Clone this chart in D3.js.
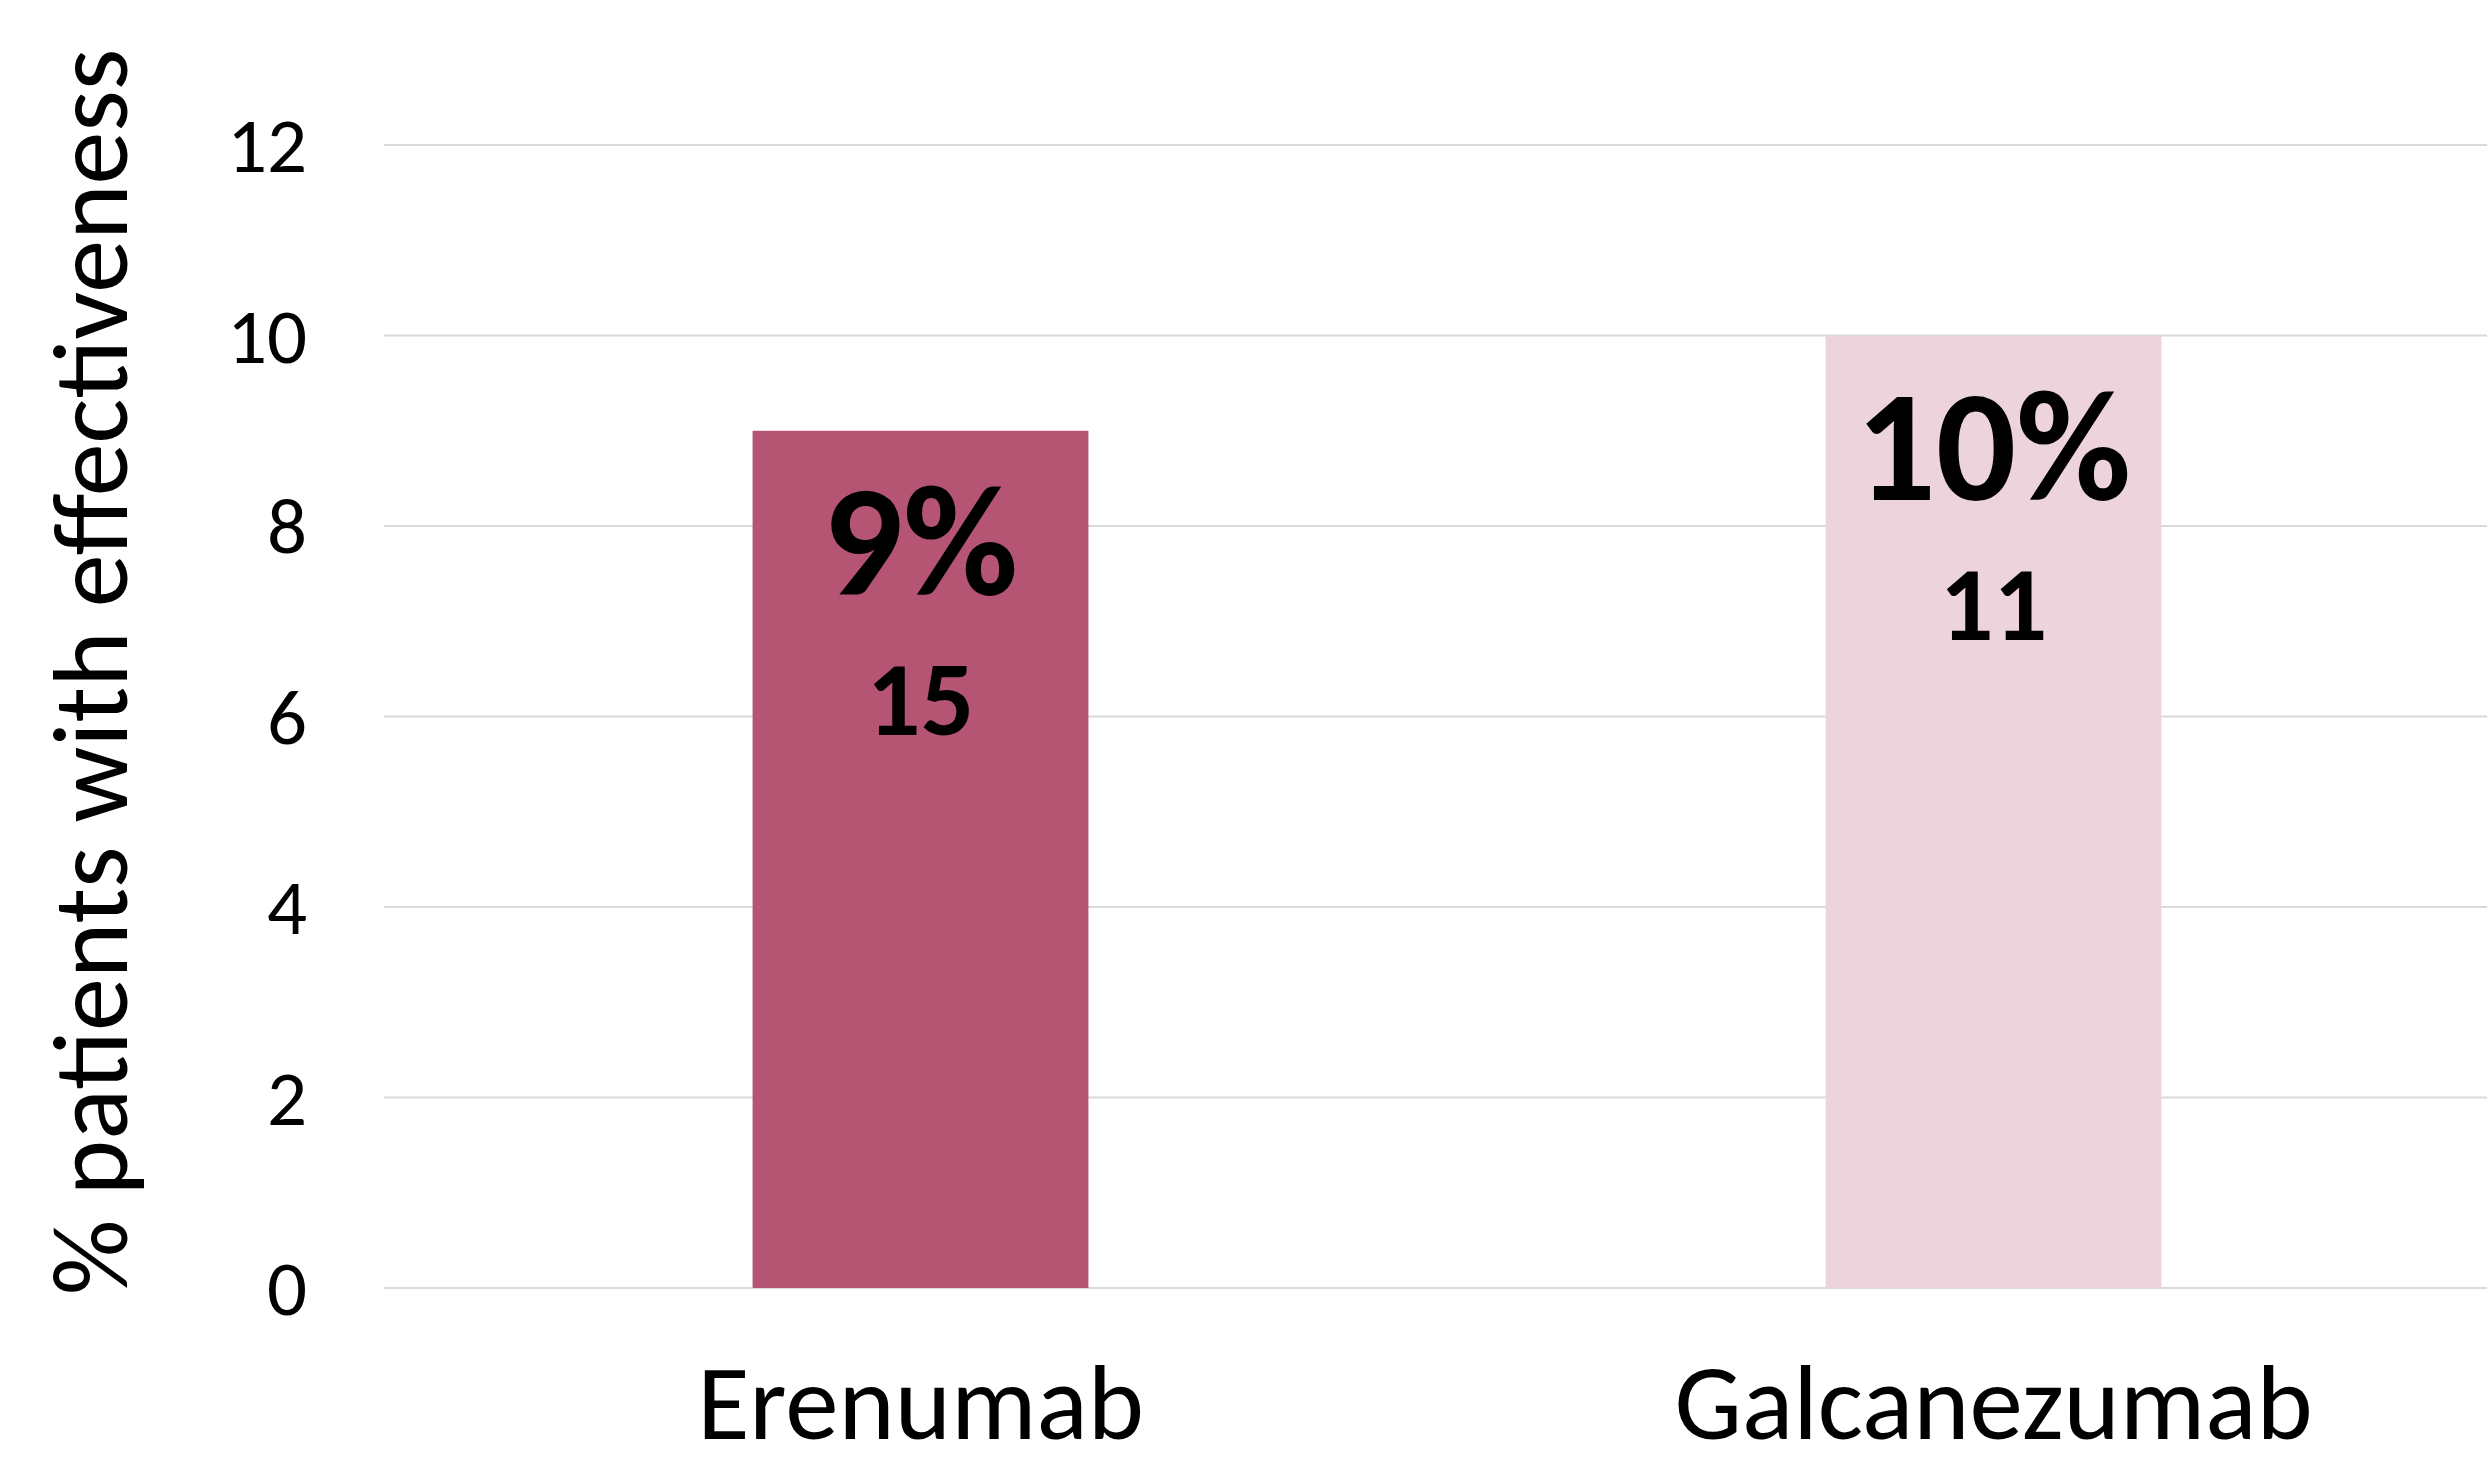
<!DOCTYPE html>
<html>
<head>
<meta charset="utf-8">
<script src="https://cdn.jsdelivr.net/npm/d3@7"></script>
<style>
  html, body { margin: 0; padding: 0; background: #ffffff; }
  svg { display: block; }
  text { font-family: Carlito, Calibri, Lato, "Open Sans", sans-serif; fill: #000; }
</style>
</head>
<body>
<svg id="chart" width="2487" height="1473"></svg>
<script>
const categories = ["Erenumab", "Galcanezumab"];
const values = [9, 10];
const percentLabels = ["9%", "10%"];
const countLabels = ["15", "11"];
const barColors = ["#b55473", "#ecd3dc"];
const yTicks = [0, 2, 4, 6, 8, 10, 12];
const yTitle = "% patients with effectiveness";

const svg = d3.select("#chart");
const W = 2487, H = 1473;
const plotLeft = 384, plotRight = 2530, plotTop = 145, plotBottom = 1288;

const x = d3.scaleBand()
  .domain(categories)
  .range([plotLeft, plotRight])
  .paddingInner(0.687)
  .paddingOuter(0.3435);

const y = d3.scaleLinear().domain([0, 12]).range([plotBottom, plotTop]);

// gridlines
svg.append("g").selectAll("line").data(yTicks).join("line")
  .attr("x1", plotLeft).attr("x2", W)
  .attr("y1", d => y(d)).attr("y2", d => y(d))
  .attr("stroke", "#d9d9d9").attr("stroke-width", 2);

// y axis labels
const yAxis = d3.axisLeft(y).tickValues(yTicks).tickSize(0).tickPadding(0);
const yg = svg.append("g").attr("transform", `translate(307,0)`).call(yAxis);
yg.select(".domain").remove();
yg.selectAll("text").attr("font-size", 79).attr("font-family", null).attr("dy", "0.34em").attr("x", 0);

// bars
svg.append("g").selectAll("rect").data(categories).join("rect")
  .attr("x", d => x(d))
  .attr("width", x.bandwidth())
  .attr("y", (d, i) => y(values[i]))
  .attr("height", (d, i) => y(0) - y(values[i]))
  .attr("fill", (d, i) => barColors[i]);

// value labels
svg.append("g").selectAll("text").data(categories).join("text")
  .attr("x", d => x(d) + x.bandwidth() / 2)
  .attr("y", (d, i) => y(values[i]) + 164)
  .attr("text-anchor", "middle")
  .attr("font-size", 158)
  .attr("font-weight", "bold")
  .text((d, i) => percentLabels[i]);

svg.append("g").selectAll("text").data(categories).join("text")
  .attr("x", d => x(d) + x.bandwidth() / 2)
  .attr("y", (d, i) => y(values[i]) + 304)
  .attr("text-anchor", "middle")
  .attr("font-size", 106)
  .attr("font-weight", "bold")
  .text((d, i) => countLabels[i]);

// x axis labels
const xAxis = d3.axisBottom(x).tickSize(0).tickPadding(0);
const xg = svg.append("g").attr("transform", `translate(0,${plotBottom})`).call(xAxis);
xg.select(".domain").remove();
xg.selectAll("text").attr("font-size", 107).attr("font-family", null).attr("dy", null).attr("y", 151);

// y title
svg.append("text")
  .attr("transform", `translate(127,672) rotate(-90)`)
  .attr("text-anchor", "middle")
  .attr("font-size", 106)
  .text(yTitle);
</script>
</body>
</html>
